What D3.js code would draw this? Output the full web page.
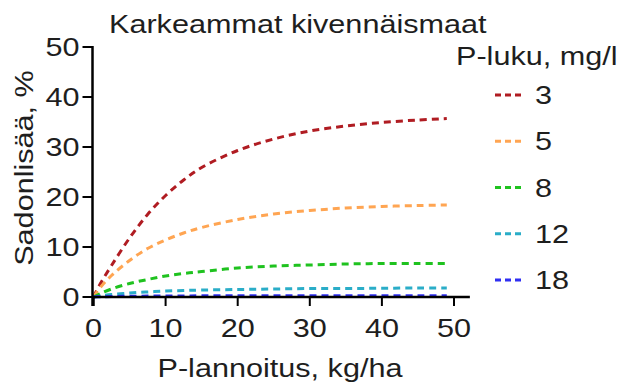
<!DOCTYPE html>
<html>
<head>
<meta charset="utf-8">
<script src="https://cdn.jsdelivr.net/npm/d3@7"></script>
<style>
  html, body { margin: 0; padding: 0; background: #fff; }
  svg text { font-family: "Liberation Sans", Arial, Helvetica, sans-serif; fill: #1e1e1e; }
</style>
</head>
<body>
<svg id="chart" width="621" height="388"></svg>
<script>
// P fertilisation dose, kg/ha
const doses = [0, 1, 2.5, 5, 7.5, 10, 12.5, 15, 20, 25, 30, 35, 40, 45, 49];
// Soil P test value classes, mg/l
const pLevels = ["3", "5", "8", "12", "18"];
// Yield increase, % for each soil P class
const gainP3  = [0, 2.8, 6.3, 11.8, 16.5, 20.3, 23.4, 25.9, 29.3, 31.6, 33.2, 34.2, 34.9, 35.4, 35.7];
const gainP5  = [0, 2.0, 4.3, 7.3, 9.7, 11.4, 12.8, 13.9, 15.5, 16.6, 17.3, 17.8, 18.1, 18.3, 18.4];
const gainP8  = [0, 0.7, 1.6, 2.7, 3.5, 4.2, 4.7, 5.1, 5.8, 6.2, 6.4, 6.6, 6.7, 6.7, 6.7];
const gainP12 = [0, 0.2, 0.5, 0.8, 1.0, 1.2, 1.3, 1.4, 1.5, 1.6, 1.7, 1.7, 1.75, 1.8, 1.8];
const gainP18 = [0, 0.05, 0.1, 0.15, 0.18, 0.2, 0.22, 0.23, 0.24, 0.25, 0.25, 0.25, 0.25, 0.25, 0.25];
const xTicks = [0, 10, 20, 30, 40, 50];
const yTicks = [0, 10, 20, 30, 40, 50];

const seriesValues = [gainP3, gainP5, gainP8, gainP12, gainP18];
const colors = ["#b01c22", "#ffa552", "#1fc21f", "#2aadc8", "#2f2ff2"];

const svg = d3.select("#chart");
const FONT = 25.5, WIDEN = 1.2;

// text helper: widened glyphs to get the broad sans look
function widen(sel) {
  sel.each(function () {
    const len = this.getComputedTextLength();
    d3.select(this).attr("textLength", len * WIDEN).attr("lengthAdjust", "spacingAndGlyphs");
  });
  return sel;
}

const x = d3.scaleLinear().domain([0, 50]).range([93.5, 454]);
const y = d3.scaleLinear().domain([0, 50]).range([297, 47]);

// response curves
const line = d3.line()
  .x((d, i) => x(doses[i]))
  .y(d => y(d))
  .curve(d3.curveCatmullRom.alpha(0.5));

const curves = svg.append("g");
seriesValues.forEach((vals, k) => {
  curves.append("path")
    .attr("d", line(vals))
    .attr("fill", "none")
    .attr("stroke", colors[k])
    .attr("stroke-width", 3)
    .attr("stroke-dasharray", "7,5");
});

// x axis
const xAxis = svg.append("g").attr("transform", `translate(0,${y(0)})`);
xAxis.append("line")
  .attr("x1", x(0) - 1).attr("x2", x(52.2))
  .attr("stroke", "#000").attr("stroke-width", 2.5);
xAxis.selectAll(".xt").data(xTicks).enter().append("line")
  .attr("x1", d => x(d)).attr("x2", d => x(d))
  .attr("y1", 0).attr("y2", 9)
  .attr("stroke", "#000").attr("stroke-width", d => d === 0 ? 2.5 : 2);
widen(xAxis.selectAll(".xl").data(xTicks).enter().append("text")
  .attr("x", d => x(d)).attr("y", 40)
  .attr("text-anchor", "middle")
  .attr("font-size", FONT)
  .text(d => d));

// y axis
const yAxis = svg.append("g").attr("transform", `translate(${x(0) - 1},0)`);
yAxis.append("line")
  .attr("y1", y(50) - 1).attr("y2", y(0) + 9)
  .attr("stroke", "#000").attr("stroke-width", 2.5);
yAxis.selectAll(".yt").data(yTicks).enter().append("line")
  .attr("x1", -10).attr("x2", 0)
  .attr("y1", d => y(d)).attr("y2", d => y(d))
  .attr("stroke", "#000").attr("stroke-width", 2);
widen(yAxis.selectAll(".yl").data(yTicks).enter().append("text")
  .attr("x", -13).attr("y", d => y(d))
  .attr("dy", "0.36em")
  .attr("text-anchor", "end")
  .attr("font-size", FONT)
  .text(d => d));

// titles
widen(svg.append("text")
  .attr("x", 109).attr("y", 33)
  .attr("font-size", FONT)
  .text("Karkeammat kivennäismaat"));

widen(svg.append("text")
  .attr("x", 280).attr("y", 377)
  .attr("text-anchor", "middle")
  .attr("font-size", FONT)
  .text("P-lannoitus, kg/ha"));

widen(svg.append("text")
  .attr("transform", "translate(33,168) rotate(-90)")
  .attr("text-anchor", "middle")
  .attr("font-size", FONT)
  .text("Sadonlisää, %"));

// legend
const legend = svg.append("g");
widen(legend.append("text")
  .attr("x", 456).attr("y", 65)
  .attr("font-size", FONT)
  .text("P-luku, mg/l"));

const legendY = d3.scalePoint().domain(pLevels).range([95, 280]);
pLevels.forEach((lab, k) => {
  legend.append("line")
    .attr("x1", 495).attr("x2", 523)
    .attr("y1", legendY(lab)).attr("y2", legendY(lab))
    .attr("stroke", colors[k]).attr("stroke-width", 3)
    .attr("stroke-dasharray", "6,4");
  widen(legend.append("text")
    .attr("x", 535).attr("y", legendY(lab))
    .attr("dy", "0.36em")
    .attr("font-size", FONT)
    .text(lab));
});
</script>
</body>
</html>
